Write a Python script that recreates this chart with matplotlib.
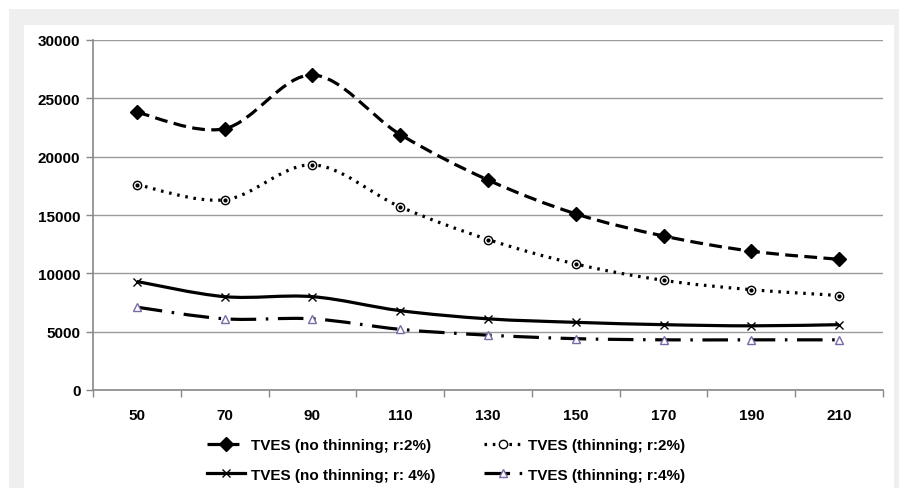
import matplotlib
matplotlib.use("Agg")
import matplotlib.pyplot as plt
from matplotlib.path import Path
from matplotlib.patches import PathPatch, Rectangle
from matplotlib.lines import Line2D
import numpy as np

categories = ["50", "70", "90", "110", "130", "150", "170", "190", "210"]
nothin_r2 = [23800, 22400, 27000, 21900, 18000, 15100, 13200, 11900, 11200]
thin_r2 = [17600, 16300, 19300, 15700, 12900, 10800, 9400, 8600, 8100]
nothin_r4 = [9300, 8000, 8000, 6800, 6100, 5800, 5600, 5500, 5600]
thin_r4 = [7100, 6100, 6100, 5200, 4700, 4400, 4300, 4300, 4300]
labels = ["TVES (no thinning; r:2%)", "TVES (thinning; r:2%)",
          "TVES (no thinning; r: 4%)", "TVES (thinning; r:4%)"]
yticks = [0, 5000, 10000, 15000, 20000, 25000, 30000]

plt.rcParams['font.family'] = ['Liberation Sans', 'DejaVu Sans']

W, H = 899, 489
fig = plt.figure(figsize=(W / 100, H / 100), dpi=100)
fig.patch.set_facecolor("white")
fig.add_artist(Rectangle((9 / W, 0), 1, (H - 10) / H, transform=fig.transFigure,
                         facecolor="#efefef", edgecolor="none", zorder=-10))
fig.add_artist(Rectangle((24 / W, 0), (894 - 24) / W, (H - 26) / H, transform=fig.transFigure,
                         facecolor="white", edgecolor="none", zorder=-9))

ax = fig.add_axes([93 / W, (H - 391) / H, (883 - 93) / W, (391 - 41) / H])
ax.set_facecolor("none")
x = np.arange(len(categories))


def smooth_path(xs, ys):
    pts = np.column_stack([xs, ys]).astype(float)
    n = len(pts)
    verts = [pts[0]]
    codes = [Path.MOVETO]
    for i in range(n - 1):
        p0 = pts[i - 1] if i > 0 else pts[i]
        p1 = pts[i]
        p2 = pts[i + 1]
        p3 = pts[i + 2] if i + 2 < n else pts[i + 1]
        c1 = p1 + (p2 - p0) / 6.0
        c2 = p2 - (p3 - p1) / 6.0
        verts += [c1, c2, p2]
        codes += [Path.CURVE4] * 3
    return Path(verts, codes)


lw = 2.3
styles = [
    dict(data=nothin_r2, dashes=(4.0, 2.0), marker="D", ms=7.5, mfc="black", mec="black"),
    dict(data=thin_r2, dashes=(0.8, 1.8), marker="o", ms=6, mfc="white", mec="black"),
    dict(data=nothin_r4, dashes=None, marker="x", ms=6, mfc="black", mec="black"),
    dict(data=thin_r4, dashes=(8, 3, 0.8, 3), marker="^", ms=6, mfc="white", mec="#7a6aa8"),
]

handles = []
for s, lab in zip(styles, labels):
    path = smooth_path(x, s["data"])
    ls = "-" if s["dashes"] is None else (0, s["dashes"])
    pp = PathPatch(path, facecolor="none", edgecolor="black", lw=lw, linestyle=ls,
                   transform=ax.transData, zorder=3, capstyle="butt")
    ax.add_patch(pp)
    ax.plot(x, s["data"], linestyle="none", marker=s["marker"], ms=s["ms"],
            mfc=s["mfc"], mec=s["mec"], mew=1.0, zorder=4)
    if s["marker"] == "o":
        ax.plot(x, s["data"], linestyle="none", marker="o", ms=2, mfc="black",
                mec="black", zorder=5)
    handles.append(Line2D([], [], color="black", lw=lw, linestyle=ls, marker=s["marker"],
                          ms=s["ms"], mfc=s["mfc"], mec=s["mec"], mew=1.0))

ax.set_xlim(-0.5, len(categories) - 0.5)
ax.set_ylim(0, 30000)
ax.set_yticks(yticks)
ax.set_yticklabels([str(v) for v in yticks], fontsize=11, fontweight="bold")
ax.yaxis.grid(True, color="#9a9a9a", lw=1.0)
ax.set_axisbelow(True)
ax.set_xticks(x)
ax.set_xticklabels(categories, fontsize=11, fontweight="bold")
ax.set_xticks(np.arange(len(categories) + 1) - 0.5, minor=True)
ax.tick_params(axis="x", which="major", length=0, pad=13)
ax.tick_params(axis="x", which="minor", length=5, color="#888888", width=1)
ax.tick_params(axis="y", length=5, color="#888888", width=1, pad=4)
for side in ["top", "right"]:
    ax.spines[side].set_visible(False)
for side in ["left", "bottom"]:
    ax.spines[side].set_color("#888888")
    ax.spines[side].set_linewidth(1.2)

order = [0, 2, 1, 3]
leg = fig.legend([handles[i] for i in order], [labels[i] for i in order],
                 loc="center", bbox_to_anchor=(446 / W, 1 - 461 / H),
                 ncol=2, frameon=False, prop=dict(size=11, weight="bold"),
                 handlelength=2.5, handletextpad=0.4, columnspacing=3.2, labelspacing=1.0)

fig.savefig("out.png", dpi=100)
